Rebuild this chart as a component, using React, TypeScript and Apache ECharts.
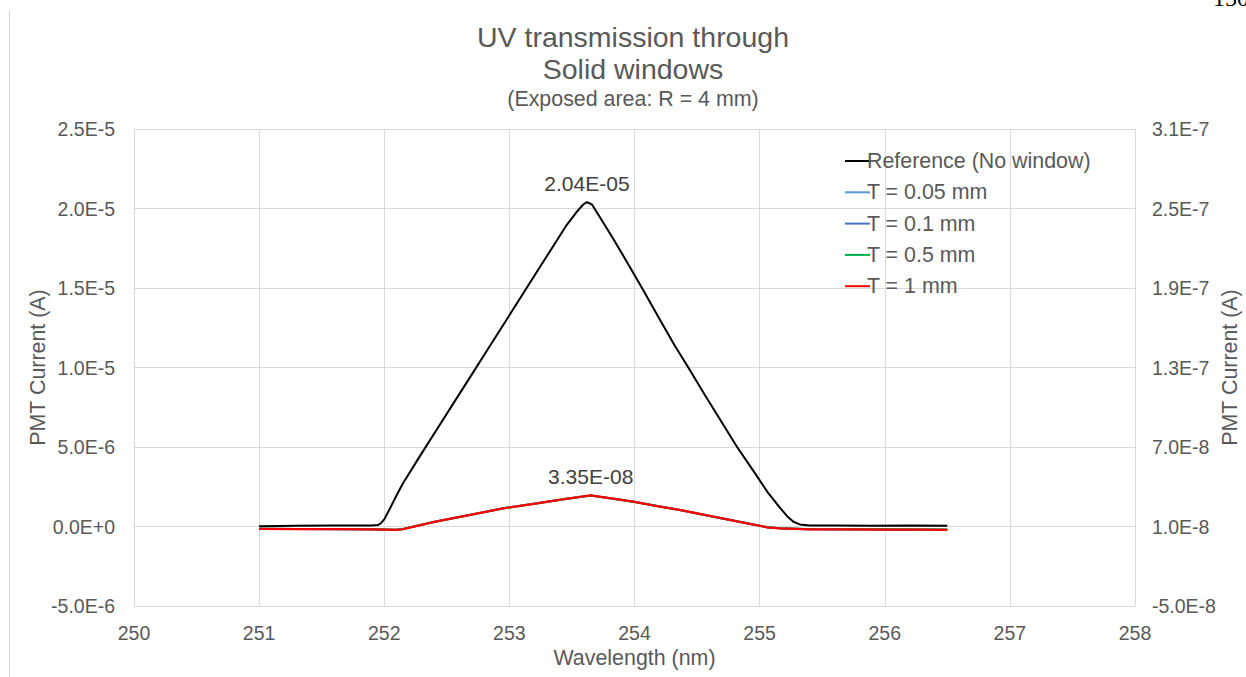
import React, { useEffect, useRef } from "react";
import * as echarts from "echarts";

// ---- Data ----
const xTicks = [250, 251, 252, 253, 254, 255, 256, 257, 258];
const rightTickValues = [-5e-8, 1e-8, 7e-8, 1.3e-7, 1.9e-7, 2.5e-7, 3.1e-7];

// Reference (No window) — left axis, amps
const refX = [
  251.0, 251.3, 251.6, 251.9, 251.95, 251.97, 252.0, 252.05, 252.1, 252.15, 252.29, 252.42,
  252.55, 252.685, 252.83, 252.98, 253.11, 253.22, 253.35, 253.45, 253.54, 253.59, 253.62,
  253.66, 253.72, 253.83, 253.95, 254.06, 254.2, 254.32, 254.43, 254.56, 254.69, 254.82,
  254.95, 255.06, 255.16, 255.22, 255.27, 255.32, 255.4, 255.6, 255.9, 256.2, 256.5,
];
const refY = [
  0.02e-6, 0.05e-6, 0.06e-6, 0.07e-6, 0.1e-6, 0.18e-6, 0.45e-6, 1.2e-6, 1.98e-6, 2.72e-6,
  4.49e-6, 6.1e-6, 7.71e-6, 9.38e-6, 11.18e-6, 13.04e-6, 14.65e-6, 16.02e-6, 17.63e-6,
  18.87e-6, 19.8e-6, 20.25e-6, 20.4e-6, 20.25e-6, 19.5e-6, 18.1e-6, 16.5e-6, 15.0e-6,
  13.05e-6, 11.4e-6, 10.0e-6, 8.3e-6, 6.65e-6, 5.0e-6, 3.5e-6, 2.2e-6, 1.2e-6, 0.65e-6,
  0.3e-6, 0.13e-6, 0.07e-6, 0.06e-6, 0.05e-6, 0.07e-6, 0.04e-6,
];

// Windowed series — right axis, amps
const winX = [
  251.0, 251.3, 251.6, 251.9, 252.1, 252.15, 252.4, 252.685, 252.95, 253.22, 253.45, 253.65,
  253.8, 253.99, 254.18, 254.36, 254.63, 254.9, 255.06, 255.16, 255.4, 255.7, 256.0, 256.3, 256.5,
];
const t005Y = [
  0.83e-8, 0.81e-8, 0.8e-8, 0.79e-8, 0.75e-8, 0.81e-8, 1.36e-8, 1.88e-8, 2.38e-8, 2.76e-8,
  3.09e-8, 3.34e-8, 3.14e-8, 2.88e-8, 2.55e-8, 2.26e-8, 1.75e-8, 1.25e-8, 0.95e-8, 0.87e-8,
  0.8e-8, 0.79e-8, 0.78e-8, 0.77e-8, 0.75e-8,
];
const t01Y = [
  0.82e-8, 0.81e-8, 0.79e-8, 0.78e-8, 0.75e-8, 0.8e-8, 1.35e-8, 1.87e-8, 2.36e-8, 2.75e-8,
  3.08e-8, 3.33e-8, 3.13e-8, 2.87e-8, 2.54e-8, 2.25e-8, 1.74e-8, 1.24e-8, 0.94e-8, 0.86e-8,
  0.8e-8, 0.78e-8, 0.77e-8, 0.76e-8, 0.75e-8,
];
const t05Y = [
  0.84e-8, 0.82e-8, 0.81e-8, 0.8e-8, 0.76e-8, 0.81e-8, 1.34e-8, 1.86e-8, 2.37e-8, 2.74e-8,
  3.07e-8, 3.34e-8, 3.15e-8, 2.86e-8, 2.55e-8, 2.24e-8, 1.73e-8, 1.25e-8, 0.95e-8, 0.87e-8,
  0.81e-8, 0.8e-8, 0.79e-8, 0.78e-8, 0.77e-8,
];
const t1Y = [
  0.82e-8, 0.8e-8, 0.8e-8, 0.78e-8, 0.74e-8, 0.8e-8, 1.35e-8, 1.87e-8, 2.37e-8, 2.75e-8,
  3.08e-8, 3.35e-8, 3.14e-8, 2.87e-8, 2.54e-8, 2.25e-8, 1.74e-8, 1.24e-8, 0.94e-8, 0.86e-8,
  0.79e-8, 0.78e-8, 0.77e-8, 0.76e-8, 0.74e-8,
];

const seriesNames = [
  "Reference (No window)",
  "T = 0.05 mm",
  "T = 0.1 mm",
  "T = 0.5 mm",
  "T = 1 mm",
];
const seriesColors = ["#000000", "#5B9BD5", "#4472C4", "#00B050", "#FF0000"];

const FONT = "'Liberation Sans', Arial, Helvetica, sans-serif";
const TEXT = "#595959";
const GRID = "#d9d9d9";

const tickFmt = (v: number) => Number(v).toExponential(1).replace("e", "E");
const labelFmt = (v: number) => {
  const [m, e] = v.toExponential(2).split("e");
  const sign = e[0];
  const digits = e.slice(1).padStart(2, "0");
  return `${m}E${sign}${digits}`;
};

function buildData(xs: number[], ys: number[], withPeakLabel: boolean) {
  let peak = 0;
  ys.forEach((y, i) => {
    if (y > ys[peak]) peak = i;
  });
  return xs.map((x, i) => {
    if (withPeakLabel && i === peak) {
      return {
        value: [x, ys[i]],
        symbolSize: 1,
        label: {
          show: true,
          position: "top",
          distance: 8,
          formatter: () => labelFmt(ys[i]),
          fontFamily: FONT,
          fontSize: 21,
          color: "#404040",
        },
      };
    }
    return [x, ys[i]];
  });
}

export default function App() {
  const ref = useRef<HTMLDivElement>(null);

  useEffect(() => {
    document.body.style.margin = "0";
    const chart = echarts.init(ref.current!, null, { renderer: "svg" });
    const winSeries = [t005Y, t01Y, t05Y, t1Y];

    const option: any = {
      animation: false,
      backgroundColor: "#ffffff",
      grid: {
        left: 134,
        right: 111,
        top: 129,
        bottom: 71,
        containLabel: false,
        outerBoundsMode: "none",
      },
      graphic: [
        {
          type: "line",
          shape: { x1: 9.5, y1: 10, x2: 9.5, y2: 677 },
          style: { stroke: GRID, lineWidth: 1 },
        },
        {
          type: "text",
          x: 1213,
          y: 10,
          style: {
            text: "150",
            fontFamily: "'Liberation Serif', 'Times New Roman', serif",
            fontSize: 24,
            fill: "#000",
            verticalAlign: "bottom",
          },
        },
        {
          type: "text",
          x: 633,
          y: 37,
          style: {
            text: "UV transmission through",
            fontFamily: FONT,
            fontSize: 28.5,
            fill: TEXT,
            align: "center",
            verticalAlign: "middle",
          },
        },
        {
          type: "text",
          x: 633,
          y: 69,
          style: {
            text: "Solid windows",
            fontFamily: FONT,
            fontSize: 28.5,
            fill: TEXT,
            align: "center",
            verticalAlign: "middle",
          },
        },
        {
          type: "text",
          x: 633,
          y: 99,
          style: {
            text: "(Exposed area: R = 4 mm)",
            fontFamily: FONT,
            fontSize: 21.4,
            fill: TEXT,
            align: "center",
            verticalAlign: "middle",
          },
        },
      ],
      legend: {
        orient: "vertical",
        left: 840,
        top: 144,
        itemWidth: 25,
        itemHeight: 2,
        itemGap: 7.3,
        icon: "rect",
        data: seriesNames,
        textStyle: {
          fontFamily: FONT,
          fontSize: 21.4,
          color: TEXT,
          lineHeight: 24,
          padding: [0, 0, 0, -8],
        },
      },
      xAxis: {
        type: "value",
        min: xTicks[0],
        max: xTicks[xTicks.length - 1],
        interval: 1,
        name: "Wavelength (nm)",
        nameLocation: "middle",
        nameGap: 41,
        nameMoveOverlap: false,
        nameTextStyle: { fontFamily: FONT, fontSize: 21.4, color: TEXT },
        axisLine: { show: true, lineStyle: { color: GRID } },
        axisTick: { show: false },
        axisLabel: {
          fontFamily: FONT,
          fontSize: 19.5,
          color: TEXT,
          margin: 17,
          formatter: (v: number) => String(v),
        },
        splitLine: { show: true, lineStyle: { color: GRID, width: 1 } },
      },
      yAxis: [
        {
          type: "value",
          min: -5e-6,
          max: 2.5e-5,
          interval: 5e-6,
          name: "PMT Current (A)",
          nameLocation: "middle",
          nameGap: 86,
          nameMoveOverlap: false,
          nameTextStyle: { fontFamily: FONT, fontSize: 21.4, color: TEXT },
          axisLine: { show: false },
          axisTick: { show: false },
          axisLabel: {
            fontFamily: FONT,
            fontSize: 19.5,
            color: TEXT,
            margin: 19,
            formatter: tickFmt,
          },
          splitLine: { show: true, lineStyle: { color: GRID, width: 1 } },
        },
        {
          type: "value",
          position: "right",
          min: rightTickValues[0],
          max: rightTickValues[rightTickValues.length - 1],
          name: "PMT Current (A)",
          nameLocation: "middle",
          nameGap: 84,
          nameMoveOverlap: false,
          nameTextStyle: { fontFamily: FONT, fontSize: 21.4, color: TEXT },
          axisLine: { show: false },
          axisTick: { show: false },
          axisLabel: {
            fontFamily: FONT,
            fontSize: 19.5,
            color: TEXT,
            margin: 17,
            customValues: rightTickValues,
            formatter: tickFmt,
          },
          splitLine: { show: false },
        },
      ],
      series: [
        {
          name: seriesNames[0],
          type: "line",
          yAxisIndex: 0,
          data: buildData(refX, refY, true),
          symbol: "circle",
          symbolSize: 0,
          showSymbol: true,
          color: seriesColors[0],
          lineStyle: { color: seriesColors[0], width: 2 },
          z: 2,
        },
        ...winSeries.map((ys, k) => ({
          name: seriesNames[k + 1],
          type: "line",
          yAxisIndex: 1,
          data: buildData(winX, ys, k === 3),
          symbol: "circle",
          symbolSize: 0,
          showSymbol: true,
          color: seriesColors[k + 1],
          lineStyle: { color: seriesColors[k + 1], width: k === 3 ? 2.25 : 2 },
          z: 3 + k,
        })),
      ],
    };

    chart.setOption(option);
    return () => chart.dispose();
  }, []);

  return (
    <div
      ref={ref}
      style={{ position: "fixed", left: 0, top: 0, width: 1246, height: 677 }}
    />
  );
}
